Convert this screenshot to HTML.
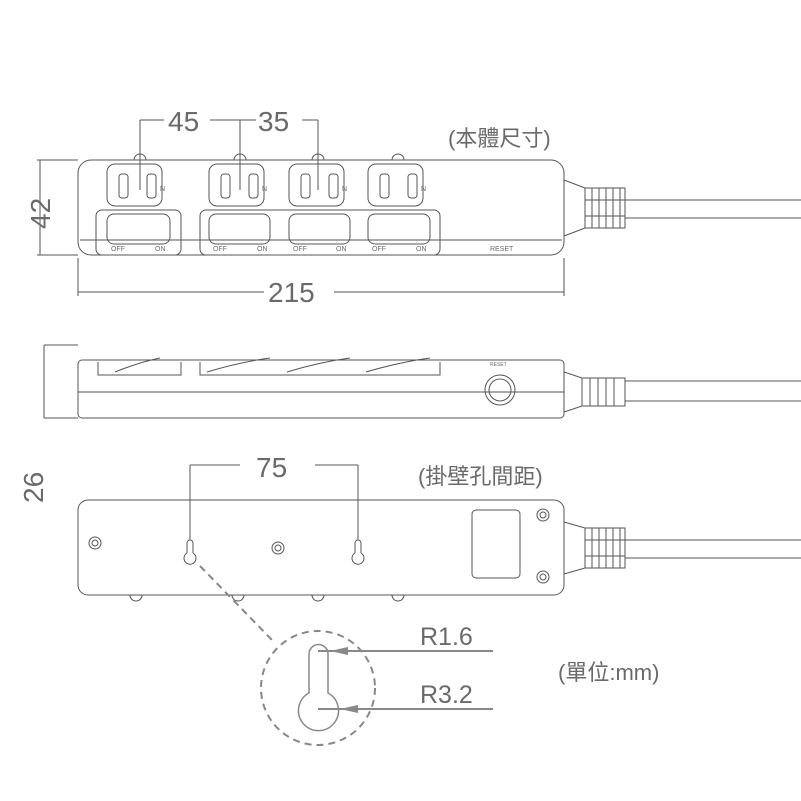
<!DOCTYPE html>
<html><head><meta charset="utf-8"><style>
html,body{margin:0;padding:0;background:#fff;width:801px;height:801px;overflow:hidden}
svg text{font-family:"Liberation Sans","Noto Sans CJK TC",sans-serif;fill:#6a6a6a}
</style></head><body>
<svg width="801" height="801" viewBox="0 0 801 801" xmlns="http://www.w3.org/2000/svg">
<g fill="none" stroke="#555" stroke-width="1">
<rect x="78" y="160" width="486" height="95" rx="13"/>
<line x1="80" y1="240" x2="562" y2="240"/>
<path d="M134 160 a6 6 0 0 1 12 0 M234 160 a6 6 0 0 1 12 0 M312 160 a6 6 0 0 1 12 0 M392 160 a6 6 0 0 1 12 0"/>
<g id="out">
<rect x="107" y="164" width="55" height="42" rx="8"/>
<rect x="119" y="174" width="9" height="24" rx="3"/>
<rect x="147" y="174" width="9" height="24" rx="3"/>
</g>
<use href="#out" x="102"/><use href="#out" x="182"/><use href="#out" x="261"/>
<rect x="96" y="210" width="85" height="45" rx="6"/>
<rect x="200" y="210" width="240" height="45" rx="6"/>
<rect x="107" y="214" width="63" height="30" rx="7"/>
<rect x="209" y="214" width="61" height="30" rx="7"/>
<rect x="289" y="214" width="61" height="30" rx="7"/>
<rect x="368" y="214" width="62" height="30" rx="7"/>
<path d="M564 180 L585 188 L625 188 L625 228 L585 228 L564 236"/>
<path d="M585 188 V228 M592 188 V228 M599 188 V228 M606 188 V228 M613 188 V228 M620 188 V228 M585 200 H625 M585 216 H625"/>
<path d="M625 200 H801 M625 218 H801"/>
<path d="M37 160 H78 M37 255 H78 M40 160 V255"/>
<path d="M78 258 V296 M564 258 V296 M78 292 H264 M334 292 H564"/>
<path d="M140 120 V190 M240 120 V190 M318 120 V190 M140 120 H164 M210 120 H256 M302 120 H318"/>
<rect x="78" y="360" width="486" height="58" rx="4"/>
<line x1="78" y1="392" x2="564" y2="392"/>
<path d="M98 362 V375 H181 V362 M200 362 V375 H440 V362 M100 360 H180 M205 360 H435"/>
<path d="M115 372 Q140 362 160 358 M207 372 Q240 362 270 358 M287 372 Q320 362 350 358 M366 372 Q400 362 430 358"/>
<circle cx="500" cy="390" r="15"/><circle cx="500" cy="390" r="11"/>
<path d="M564 372 L582 378 H625 V406 H582 L564 412 M582 378 V406 M590 378 V406 M598 378 V406 M606 378 V406 M614 378 V406 M625 381 H801 M625 401 H801"/>
<path d="M44 345 V418 M44 345 H78 M44 418 H78"/>
<rect x="78" y="500" width="486" height="95" rx="10"/>
<path d="M130 595 a6 6 0 0 0 12 0 M232 595 a6 6 0 0 0 12 0 M312 595 a6 6 0 0 0 12 0 M392 595 a6 6 0 0 0 12 0"/>
<circle cx="95" cy="543" r="6"/><circle cx="95" cy="543" r="3"/>
<circle cx="278" cy="548" r="6"/><circle cx="278" cy="548" r="3"/>
<circle cx="543" cy="515" r="6"/><circle cx="543" cy="515" r="3"/>
<circle cx="543" cy="577" r="6"/><circle cx="543" cy="577" r="3"/>
<rect x="472" y="510" width="48" height="68" rx="4"/>
<path d="M187 553 V543 a3 3 0 0 1 6 0 V553 a6 6 0 1 1 -6 0 Z"/>
<path d="M355 553 V543 a3 3 0 0 1 6 0 V553 a6 6 0 1 1 -6 0 Z"/>
<path d="M564 522 L585 528 H625 V568 H585 L564 574 M585 528 V568 M592 528 V568 M599 528 V568 M606 528 V568 M613 528 V568 M620 528 V568 M585 540 H625 M585 556 H625 M625 540 H801 M625 558 H801"/>
<path d="M190 465 V540 M358 465 V540 M190 465 H240 M315 465 H358"/>
<path d="M200 566 L272 640" stroke-dasharray="7 5" stroke-width="2" stroke="#888"/>
<circle cx="318" cy="688" r="57" stroke-dasharray="7 5" stroke-width="2" stroke="#888"/>
<path d="M309 693 V654 a9.5 9.5 0 0 1 19 0 V693 a20 20 0 1 1 -19 0 Z" stroke="#888" stroke-width="1.5"/>
<path d="M318 651 H493 M318 709 H493" stroke="#888" stroke-width="2"/>
</g>
<path d="M330 651 L348 647 L348 655 Z M340 709 L358 705 L358 713 Z" fill="#888"/>
<g style="font-size:7px">
<text x="111" y="251">OFF</text><text x="155" y="251">ON</text>
<text x="213" y="251">OFF</text><text x="257" y="251">ON</text>
<text x="293" y="251">OFF</text><text x="336" y="251">ON</text>
<text x="372" y="251">OFF</text><text x="416" y="251">ON</text>
<text x="490" y="251">RESET</text>
<text x="160" y="191">N</text><text x="262" y="191">N</text><text x="342" y="191">N</text><text x="421" y="191">N</text>
<text x="490" y="366" style="font-size:5px">RESET</text>
</g>
<g font-size="28">
<text x="168" y="131">45</text><text x="258" y="131">35</text>
<text x="268" y="302">215</text>
<text x="256" y="477">75</text>
<text transform="translate(50,208) rotate(-90)" x="-21" y="0">42</text>
<text transform="translate(43,482) rotate(-90)" x="-21" y="0">26</text>
<text x="420" y="645" font-size="25">R1.6</text>
<text x="420" y="703" font-size="25">R3.2</text>
</g>
<g font-size="22">
<text x="448" y="146">(本體尺寸)</text>
<text x="418" y="484">(掛壁孔間距)</text>
<text x="558" y="680">(單位:mm)</text>
</g>
</svg>
</body></html>
